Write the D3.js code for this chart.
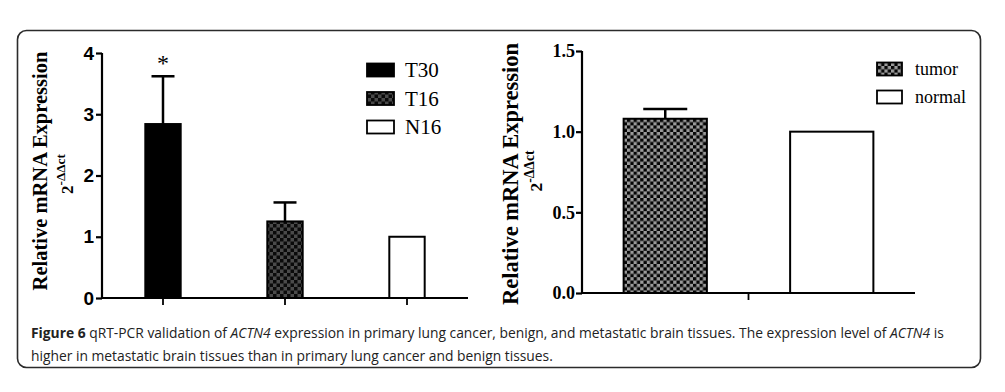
<!DOCTYPE html>
<html>
<head>
<meta charset="utf-8">
<script src="https://cdn.jsdelivr.net/npm/d3@7"></script>
<style>
  html, body { margin: 0; padding: 0; background: #fff; }
  svg { display: block; }
</style>
</head>
<body>
<svg id="chart" width="1005" height="392"></svg>
<script>
// ---------- data ----------
const leftCategories = ["T30", "T16", "N16"];
const leftValues = [2.84, 1.25, 1.0];
const leftErrors = [0.78, 0.31, 0];
const leftSignificance = ["*", "", ""];
const leftTicks = [0, 1, 2, 3, 4];

const rightGroup = [""];
const rightSeries = ["tumor", "normal"];
const rightValues = [1.08, 1.0];
const rightErrors = [0.06, 0];
const rightTicks = [0.0, 0.5, 1.0, 1.5];

const yTitle = "Relative mRNA Expression";
const captionLine1 = [
  {t: "Figure 6", w: "bold", s: "normal"},
  {t: " qRT-PCR validation of ", w: "normal", s: "normal"},
  {t: "ACTN4", w: "normal", s: "italic"},
  {t: " expression in primary lung cancer, benign, and metastatic brain tissues. The expression level of ", w: "normal", s: "normal"},
  {t: "ACTN4", w: "normal", s: "italic"},
  {t: " is", w: "normal", s: "normal"}
];
const captionLine2 = [
  {t: "higher in metastatic brain tissues than in primary lung cancer and benign tissues.", w: "normal", s: "normal"}
];

// ---------- setup ----------
const svg = d3.select("#chart");
const defs = svg.append("defs");

function checker(id, size, c1, c2) {
  const p = defs.append("pattern").attr("id", id).attr("patternUnits", "userSpaceOnUse")
    .attr("width", size * 2).attr("height", size * 2);
  p.append("rect").attr("width", size * 2).attr("height", size * 2).attr("fill", c1);
  p.append("rect").attr("width", size).attr("height", size).attr("fill", c2);
  p.append("rect").attr("x", size).attr("y", size).attr("width", size).attr("height", size).attr("fill", c2);
}
checker("patDark", 3.5, "#4a4a4a", "#0a0a0a");
checker("patTumor", 3.3, "#9a9a9a", "#050505");

const leftFill = {"T30": "#000", "T16": "url(#patDark)", "N16": "#fff"};
const rightFill = {"tumor": "url(#patTumor)", "normal": "#fff"};

// frame
svg.append("rect").attr("x", 17.5).attr("y", 30.5).attr("width", 963).attr("height", 337)
  .attr("rx", 9).attr("ry", 9).attr("fill", "none").attr("stroke", "#2b2b2b").attr("stroke-width", 1.6);

// ---------- left chart ----------
const L = {x0: 102, x1: 468, y0: 298, y1: 53};
const xL = d3.scaleBand().domain(leftCategories).range([L.x0, L.x1]).paddingInner(0.71).paddingOuter(0.355);
const yL = d3.scaleLinear().domain([0, 4]).range([L.y0, L.y1]);
const gL = svg.append("g");

// error bars
leftCategories.forEach((c, i) => {
  if (!leftErrors[i]) return;
  const cx = xL(c) + xL.bandwidth() / 2;
  gL.append("line").attr("x1", cx).attr("x2", cx).attr("y1", yL(leftValues[i])).attr("y2", yL(leftValues[i] + leftErrors[i]))
    .attr("stroke", "#000").attr("stroke-width", 2.5);
  gL.append("line").attr("x1", cx - 11.5).attr("x2", cx + 11.5)
    .attr("y1", yL(leftValues[i] + leftErrors[i])).attr("y2", yL(leftValues[i] + leftErrors[i]))
    .attr("stroke", "#000").attr("stroke-width", 2.5);
  if (leftSignificance[i]) {
    gL.append("text").attr("x", cx).attr("y", yL(leftValues[i] + leftErrors[i]) - 5)
      .attr("text-anchor", "middle").attr("font-family", "Liberation Serif").attr("font-size", 24)
      .text(leftSignificance[i]);
  }
});
gL.selectAll("rect.bar").data(leftCategories).join("rect").attr("class", "bar")
  .attr("x", d => xL(d)).attr("width", xL.bandwidth())
  .attr("y", (d, i) => yL(leftValues[i])).attr("height", (d, i) => yL(0) - yL(leftValues[i]))
  .attr("fill", d => leftFill[d]).attr("stroke", "#000").attr("stroke-width", 2);

// axes
const axL = gL.append("g").attr("transform", `translate(${L.x0},0)`)
  .call(d3.axisLeft(yL).tickValues(leftTicks).tickSize(6).tickPadding(2).tickFormat(d3.format("d")));
axL.select(".domain").attr("stroke-width", 2.2).attr("d", `M0,${L.y1}V${L.y0}`);
axL.selectAll(".tick line").attr("stroke-width", 2.2);
axL.selectAll(".tick text").attr("font-family", "Liberation Sans").attr("font-weight", "bold").attr("font-size", 19).attr("fill", "#000");

const axLx = gL.append("g").attr("transform", `translate(0,${L.y0})`)
  .call(d3.axisBottom(xL).tickSize(7).tickFormat(""));
axLx.select(".domain").attr("stroke-width", 2.2).attr("d", `M${L.x0},0H${L.x1}`);
axLx.selectAll(".tick line").attr("stroke-width", 1.8);

// y title
function yTitleBlock(cx, cy, size, subX, subCy, subSize) {
  svg.append("text").attr("transform", `translate(${cx},${cy}) rotate(-90)`)
    .attr("text-anchor", "middle").attr("dominant-baseline", "central")
    .attr("font-family", "Liberation Serif").attr("font-weight", "bold").attr("font-size", size)
    .attr("fill", "#000").text(yTitle);
  const t = svg.append("text").attr("transform", `translate(${subX},${subCy}) rotate(-90)`)
    .attr("text-anchor", "middle").attr("dominant-baseline", "central")
    .attr("font-family", "Liberation Serif").attr("font-weight", "bold").attr("font-size", subSize).attr("fill", "#000");
  t.append("tspan").text("2");
  t.append("tspan").attr("font-size", subSize * 0.78).attr("dy", -subSize * 0.42).text("-ΔΔct");
}
yTitleBlock(40, 171, 20.5, 67, 174, 17);

// legend left
const legL = svg.append("g");
leftCategories.forEach((c, i) => {
  const cy = 70 + i * 28.5;
  legL.append("rect").attr("x", 367).attr("y", cy - 6.5).attr("width", 27).attr("height", 13)
    .attr("fill", leftFill[c]).attr("stroke", "#000").attr("stroke-width", 1.8);
  legL.append("text").attr("x", 405).attr("y", cy).attr("dominant-baseline", "central")
    .attr("font-family", "Liberation Serif").attr("font-size", 21).attr("fill", "#000").text(c);
});

// ---------- right chart ----------
const R = {x0: 582, x1: 915, y0: 293, y1: 51};
const xR = d3.scaleBand().domain(rightGroup).range([R.x0, R.x1]);
const xRi = d3.scaleBand().domain(rightSeries).range([0, xR.bandwidth()]).paddingInner(0.5).paddingOuter(0.25);
const yR = d3.scaleLinear().domain([0, 1.5]).range([R.y0, R.y1]);
const gR = svg.append("g");

rightSeries.forEach((s, i) => {
  if (!rightErrors[i]) return;
  const cx = xR("") + xRi(s) + xRi.bandwidth() / 2;
  const top = yR(rightValues[i] + rightErrors[i]);
  gR.append("line").attr("x1", cx).attr("x2", cx).attr("y1", yR(rightValues[i])).attr("y2", top)
    .attr("stroke", "#000").attr("stroke-width", 2.5);
  gR.append("line").attr("x1", cx - 22).attr("x2", cx + 22).attr("y1", top).attr("y2", top)
    .attr("stroke", "#000").attr("stroke-width", 2.5);
});
gR.selectAll("rect.bar").data(rightSeries).join("rect").attr("class", "bar")
  .attr("x", d => xR("") + xRi(d)).attr("width", xRi.bandwidth())
  .attr("y", (d, i) => yR(rightValues[i])).attr("height", (d, i) => yR(0) - yR(rightValues[i]))
  .attr("fill", d => rightFill[d]).attr("stroke", "#000").attr("stroke-width", 2);

const axR = gR.append("g").attr("transform", `translate(${R.x0},0)`)
  .call(d3.axisLeft(yR).tickValues(rightTicks).tickSize(6).tickPadding(1).tickFormat(d3.format(".1f")));
axR.select(".domain").attr("stroke-width", 2.2).attr("d", `M0,${R.y1}V${R.y0}`);
axR.selectAll(".tick line").attr("stroke-width", 2.2);
axR.selectAll(".tick text").attr("font-family", "Liberation Serif").attr("font-weight", "bold").attr("font-size", 18).attr("fill", "#000");

const axRx = gR.append("g").attr("transform", `translate(0,${R.y0})`)
  .call(d3.axisBottom(xR).tickSize(7).tickFormat(""));
axRx.select(".domain").attr("stroke-width", 2.2).attr("d", `M${R.x0},0H${R.x1}`);
axRx.selectAll(".tick line").attr("stroke-width", 1.8);

yTitleBlock(510, 174, 22.5, 536, 171, 17.5);

const legR = svg.append("g");
rightSeries.forEach((s, i) => {
  const cy = 69 + i * 28;
  legR.append("rect").attr("x", 877).attr("y", cy - 6.5).attr("width", 25).attr("height", 13)
    .attr("fill", rightFill[s]).attr("stroke", "#000").attr("stroke-width", 1.8);
  legR.append("text").attr("x", 915).attr("y", cy).attr("dominant-baseline", "central")
    .attr("font-family", "Liberation Serif").attr("font-size", 18).attr("fill", "#000").text(s);
});

// ---------- caption ----------
function makeCaption(lines, x, y0, lineGap, firstWidth) {
  let sx = null;
  lines.forEach((parts, li) => {
    const g = svg.append("g");
    const t = g.append("text").attr("font-family", "Open Sans").attr("font-size", 14.5).attr("fill", "#222");
    parts.forEach(p => t.append("tspan").attr("font-weight", p.w).attr("font-style", p.s).text(p.t));
    if (sx === null) sx = firstWidth / t.node().getComputedTextLength();
    g.attr("transform", `translate(${x},${y0 + li * lineGap}) scale(${sx},1)`);
  });
}
makeCaption([captionLine1, captionLine2], 31, 338, 23, 914);
</script>
</body>
</html>
